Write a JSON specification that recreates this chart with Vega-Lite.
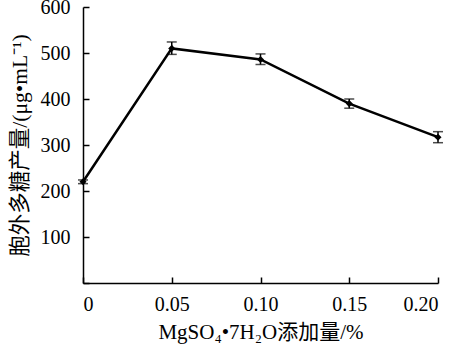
{
  "$schema": "https://vega.github.io/schema/vega-lite/v6.json",
  "autosize": "none",
  "width": 355,
  "height": 276,
  "padding": {"left": 83, "top": 7, "right": 25, "bottom": 68},
  "background": "white",
  "config": {"view": {"stroke": null}, "font": "Liberation Serif, Noto Sans CJK SC"},
  "data": {"values": [
    {"x": 0, "y": 220, "lo": 216, "hi": 224},
    {"x": 0.05, "y": 510, "lo": 497, "hi": 524},
    {"x": 0.10, "y": 486, "lo": 475, "hi": 498},
    {"x": 0.15, "y": 390, "lo": 380, "hi": 400},
    {"x": 0.20, "y": 317, "lo": 305, "hi": 329}
  ]},
  "layer": [
    {
      "mark": {"type": "errorbar", "ticks": {"size": 10, "color": "black", "thickness": 1.5}, "rule": {"color": "black", "strokeWidth": 1.5}},
      "encoding": {
        "x": {"field": "x", "type": "quantitative", "title": "MgSO₄•7H₂O添加量/%"},
        "y": {"field": "lo", "type": "quantitative", "title": "胞外多糖产量/(μg•mL⁻¹)"},
        "y2": {"field": "hi"}
      }
    },
    {
      "mark": {"type": "line", "color": "black", "strokeWidth": 2.5, "point": {"shape": "diamond", "size": 50, "color": "black", "filled": true}},
      "encoding": {
        "x": {"field": "x", "type": "quantitative",
          "scale": {"domain": [0, 0.2], "nice": false, "zero": true},
          "axis": {"values": [0, 0.05, 0.1, 0.15, 0.2], "labelExpr": "datum.value == 0 ? '0' : format(datum.value, '.2f')",
            "title": "MgSO₄•7H₂O添加量/%", "grid": false, "domainColor": "black", "domainWidth": 1.5,
            "tickColor": "black", "tickSize": -6, "tickWidth": 1.5, "labelPadding": 17,
            "labelFontSize": 20, "labelColor": "black", "titleFontSize": 21, "titleFontWeight": "normal", "titleColor": "black", "titlePadding": 7}},
        "y": {"field": "y", "type": "quantitative",
          "scale": {"domain": [0, 600], "nice": false},
          "axis": {"values": [0, 100, 200, 300, 400, 500, 600], "labelExpr": "datum.value == 0 ? '' : datum.label",
            "title": "胞外多糖产量/(μg•mL⁻¹)", "grid": false, "domainColor": "black", "domainWidth": 1.5,
            "tickColor": "black", "tickSize": -6, "tickWidth": 1.5, "labelPadding": 19,
            "labelFontSize": 20, "labelColor": "black", "titleFontSize": 21.5, "titleFontWeight": "normal", "titleColor": "black", "titlePadding": 9}}
      }
    }
  ]
}
